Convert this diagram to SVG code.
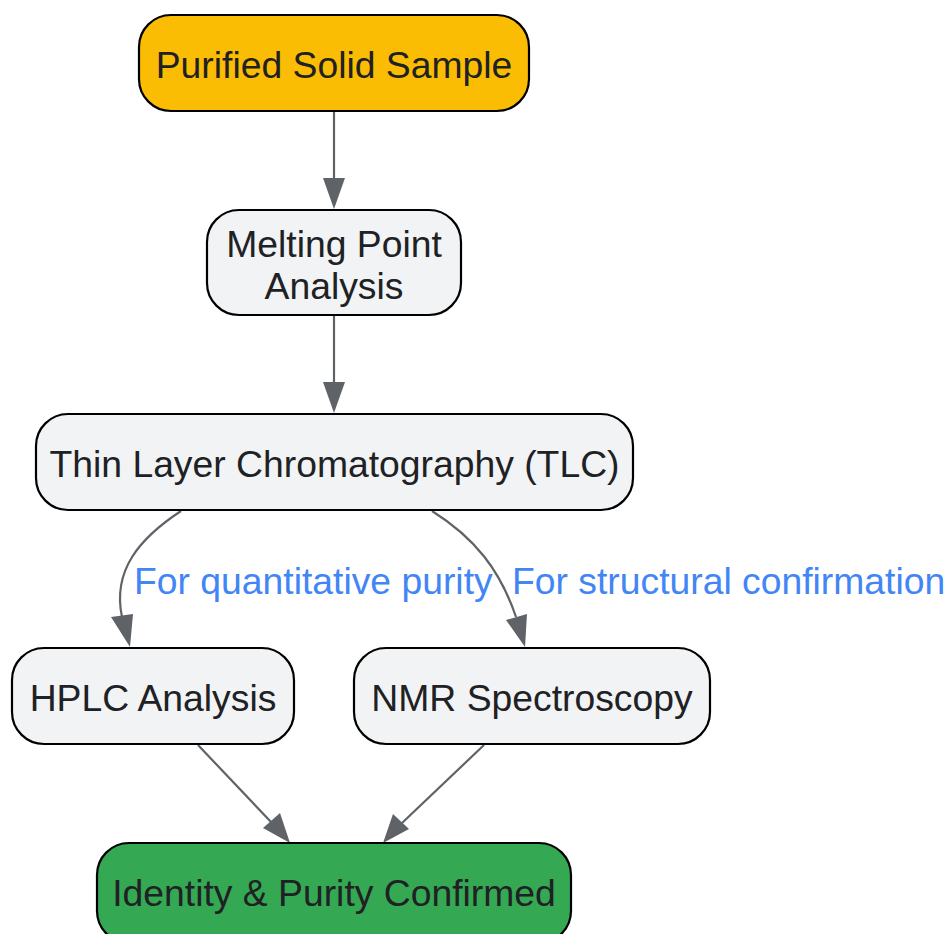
<svg xmlns="http://www.w3.org/2000/svg" width="951" height="934" viewBox="0 0 951 934">
<defs>
<style>
.node rect{stroke:#000;stroke-width:2.2}
.grey{fill:#F1F3F4}
.t{font-family:"Liberation Sans",Arial,sans-serif;font-size:37.3px;fill:#202124;text-anchor:middle}
.lbl{font-family:"Liberation Sans",Arial,sans-serif;font-size:37.3px;fill:#4285F4;text-anchor:start}
.e{fill:none;stroke:#5F6368;stroke-width:2.2}
.ah{fill:#5F6368}
</style>
</defs>
<rect width="951" height="934" fill="#fff"/>
<g id="connectors">
<path class="e" d="M334,111 L334,180"/><path class="ah" d="M323,178 L345,178 L334,209 Z"/>
<path class="e" d="M334,315 L334,384"/><path class="ah" d="M323,382 L345,382 L334,413 Z"/>
<path class="e" d="M181,511 C140,538 112,570 122,617"/><path class="ah" d="M111,617 L133,614 L130,647 Z"/>
<path class="e" d="M432,511 C475,538 500,570 516,617"/><path class="ah" d="M506,620 L527,614 L525,647 Z"/>
<path class="e" d="M198,745 L272,823"/><path class="ah" d="M263,828 L280,813 L290,843 Z"/>
<path class="e" d="M484,745 L402,823"/><path class="ah" d="M393,814 L409,829 L383,843 Z"/>
<text class="lbl" x="134" y="594">For quantitative purity</text>
<text class="lbl" x="512" y="594">For structural confirmation</text>
</g>
<g id="purified" class="node"><rect x="139" y="15" width="390" height="96" rx="32" fill="#FBBC04"/><text class="t" x="334" y="78">Purified Solid Sample</text></g>
<g id="melting" class="node"><rect x="207" y="210" width="254" height="105" rx="32" class="grey"/><text class="t" x="334" y="257">Melting Point</text><text class="t" x="334" y="299">Analysis</text></g>
<g id="tlc" class="node"><rect x="36" y="414" width="597" height="96" rx="32" class="grey"/><text class="t" x="334.5" y="477">Thin Layer Chromatography (TLC)</text></g>
<g id="hplc" class="node"><rect x="12" y="648" width="282" height="96" rx="32" class="grey"/><text class="t" x="153" y="711">HPLC Analysis</text></g>
<g id="nmr" class="node"><rect x="354" y="648" width="356" height="96" rx="32" class="grey"/><text class="t" x="532" y="711">NMR Spectroscopy</text></g>
<g id="identity" class="node"><rect x="97" y="843" width="474" height="100" rx="32" fill="#34A853"/><text class="t" x="334" y="906">Identity &amp; Purity Confirmed</text></g>
</svg>
